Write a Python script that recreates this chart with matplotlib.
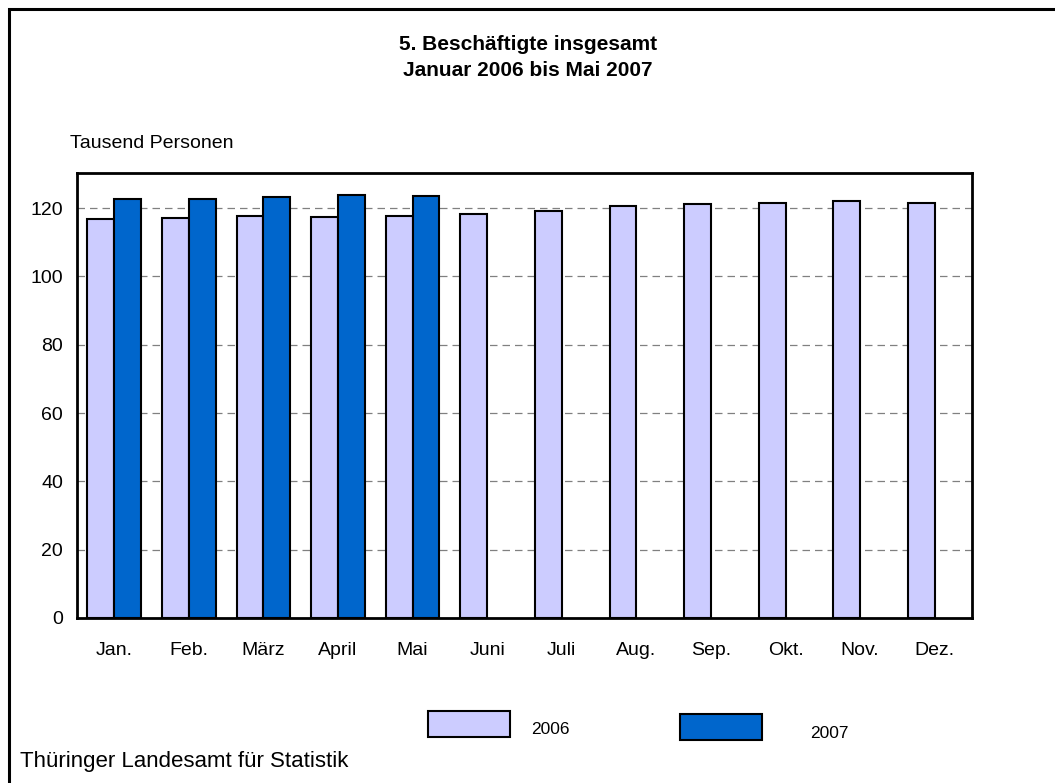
import matplotlib
matplotlib.use("Agg")
import matplotlib.pyplot as plt
import numpy as np
from matplotlib.patches import Rectangle

plt.rcParams['font.family'] = ['Liberation Sans', 'DejaVu Sans']

months = ["Jan.", "Feb.", "März", "April", "Mai", "Juni", "Juli", "Aug.", "Sep.", "Okt.", "Nov.", "Dez."]
values_2006 = [116.8, 117.1, 117.6, 117.5, 117.8, 118.2, 119.1, 120.6, 121.3, 121.5, 122.0, 121.4]
values_2007 = [122.8, 122.8, 123.4, 123.8, 123.6]
yticks = [0, 20, 40, 60, 80, 100, 120]

c06 = "#CCCCFF"
c07 = "#0066CC"

fig = plt.figure(figsize=(10.55, 7.83), dpi=100)
ax = fig.add_axes([77/1055, 1-618/783, (972-77)/1055, (618-173)/783])

x = np.arange(len(months))
w = 0.36
ax.bar(x - w/2, values_2006, width=w, color=c06, edgecolor="black", linewidth=1.5, zorder=3)
ax.bar(np.arange(len(values_2007)) + w/2, values_2007, width=w, color=c07, edgecolor="black", linewidth=1.5, zorder=3)

ax.set_xlim(-0.5, len(months) - 0.5)
ax.set_ylim(0, 130.3)
ax.set_yticks(yticks)
ax.set_yticklabels([str(t) for t in yticks], fontsize=14)
ax.set_xticks(x)
ax.set_xticklabels(months, fontsize=14)
ax.tick_params(axis='x', length=0, pad=17)
ax.tick_params(axis='y', length=0, pad=10)
ax.yaxis.grid(True, linestyle=(0, (6, 4)), color="#808080", linewidth=0.9, zorder=0)
for s in ax.spines.values():
    s.set_linewidth(2)
    s.set_color("black")

fig.text(528/1055, 1-45/783, "5. Beschäftigte insgesamt", ha="center", va="center", fontsize=15, fontweight="bold")
fig.text(528/1055, 1-71/783, "Januar 2006 bis Mai 2007", ha="center", va="center", fontsize=15, fontweight="bold")
fig.text(70/1055, 1-144/783, "Tausend Personen", ha="left", va="center", fontsize=14)
fig.text(20/1055, 1-762/783, "Thüringer Landesamt für Statistik", ha="left", va="center", fontsize=16)

# outer frame (only left and top visible)
fig.patches.append(Rectangle((9/1055, -0.1), 1.2, 1 - 9.5/783 + 0.1, transform=fig.transFigure,
                             fill=False, edgecolor="black", linewidth=2.2))

# legend
fig.patches.append(Rectangle((428/1055, 1-737/783), 82/1055, 26/783, transform=fig.transFigure,
                             facecolor=c06, edgecolor="black", linewidth=1.5))
fig.patches.append(Rectangle((680/1055, 1-740/783), 82/1055, 26/783, transform=fig.transFigure,
                             facecolor=c07, edgecolor="black", linewidth=1.5))
fig.text(531/1055, 1-729/783, "2006", ha="left", va="center", fontsize=12.5)
fig.text(810/1055, 1-733/783, "2007", ha="left", va="center", fontsize=12.5)

fig.savefig("out.png", dpi=100)
